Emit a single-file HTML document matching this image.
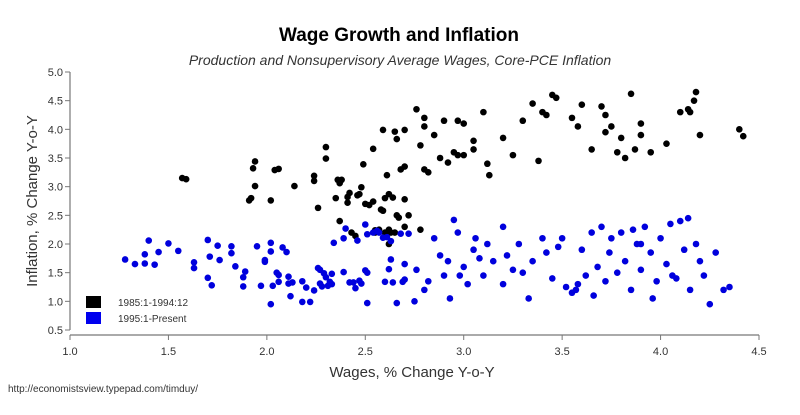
<!DOCTYPE html>
<html><head><meta charset="utf-8"><style>
body{margin:0;background:#fff;}
svg{display:block;font-family:"Liberation Sans",sans-serif;}
</style></head><body>
<svg id="c" width="800" height="415">
<text x="399" y="41" text-anchor="middle" font-size="19" font-weight="bold">Wage Growth and Inflation</text>
<text x="400" y="65" text-anchor="middle" font-size="14" font-style="italic" fill="#333">Production and Nonsupervisory Average Wages, Core-PCE Inflation</text>
<text x="412" y="377" text-anchor="middle" font-size="15" fill="#333">Wages, % Change Y-o-Y</text>
<text transform="translate(37,201) rotate(-90)" text-anchor="middle" font-size="15" fill="#333">Inflation, % Change Y-o-Y</text>
<text x="8" y="392" font-size="10" fill="#333">http://economistsview.typepad.com/timduy/</text>
<g id="axes"></g>
<g id="marks"></g>
<g>
<rect x="86" y="296" width="15" height="12" fill="#000"/>
<text x="118" y="306" font-size="10" fill="#333">1985:1-1994:12</text>
<rect x="86" y="312" width="15" height="12" fill="#0000ee"/>
<text x="118" y="322" font-size="10" fill="#333">1995:1-Present</text>
</g>
</svg>
<script>
const xTicks=[1.0,1.5,2.0,2.5,3.0,3.5,4.0,4.5];
const yTicks=[0.5,1.0,1.5,2.0,2.5,3.0,3.5,4.0,4.5,5.0];
const blackX=[1.57,1.59,1.91,1.92,1.93,1.94,1.94,2.02,2.04,2.06,2.14,2.24,2.24,2.26,2.3,2.3,2.35,2.36,2.37,2.38,2.37,2.41,2.42,2.41,2.45,2.46,2.47,2.48,2.49,2.52,2.54,2.54,2.55,2.58,2.59,2.59,2.6,2.61,2.62,2.63,2.64,2.65,2.66,2.67,2.68,2.7,2.7,2.72,2.76,2.78,2.8,2.8,2.8,2.82,2.85,2.88,2.9,2.92,2.95,2.97,3.0,3.0,3.05,3.05,3.1,3.12,3.13,3.2,3.25,3.3,3.35,3.38,3.4,3.42,3.45,3.47,3.58,3.6,3.65,3.7,3.72,3.75,3.78,3.8,3.82,3.85,3.87,3.9,3.9,3.95,4.03,4.1,4.14,4.15,4.17,4.18,4.2,4.4,4.42,2.97,3.55,3.72,2.55,2.57,2.6,2.62,2.65,2.66,2.7,2.78,2.7,2.62,2.5,2.43];
const blackY=[3.15,3.13,2.76,2.8,3.32,3.44,3.01,2.76,3.29,3.31,3.01,3.19,3.1,2.63,3.69,3.49,2.8,3.12,3.06,3.12,2.4,2.82,2.89,2.72,2.14,2.85,2.87,2.99,3.39,2.68,2.74,3.66,2.24,2.6,2.58,3.99,2.8,3.2,2.87,2.2,2.81,3.96,3.83,2.46,3.3,3.35,3.99,2.5,4.35,3.72,4.2,4.05,3.3,3.25,3.9,3.5,4.15,3.42,3.6,3.55,4.1,3.55,3.8,3.65,4.3,3.4,3.2,3.85,3.55,4.15,4.45,3.45,4.3,4.25,4.6,4.55,4.05,4.43,3.65,4.4,4.25,4.05,3.6,3.85,3.5,4.62,3.65,4.1,3.9,3.6,3.75,4.3,4.35,4.3,4.5,4.65,3.9,4.0,3.88,4.15,4.2,3.95,2.2,2.25,2.2,2.25,2.2,2.5,2.3,2.25,2.78,2.0,2.7,2.2];
const blueX=[1.28,1.33,1.38,1.38,1.4,1.43,1.45,1.5,1.55,1.63,1.63,1.7,1.7,1.71,1.72,1.75,1.76,1.82,1.82,1.84,1.88,1.88,1.89,1.95,1.97,1.99,1.99,2.02,2.02,2.02,2.03,2.05,2.06,2.06,2.08,2.1,2.11,2.11,2.12,2.13,2.18,2.18,2.2,2.22,2.24,2.26,2.27,2.27,2.28,2.29,2.3,2.31,2.32,2.33,2.33,2.34,2.39,2.39,2.4,2.42,2.44,2.45,2.46,2.47,2.48,2.5,2.5,2.51,2.51,2.51,2.54,2.56,2.57,2.59,2.6,2.61,2.62,2.63,2.63,2.64,2.66,2.68,2.69,2.7,2.7,2.72,2.75,2.76,2.8,2.82,2.85,2.88,2.9,2.92,2.93,2.95,2.97,3.0,3.02,3.05,3.1,3.12,3.15,3.2,3.22,3.28,3.3,3.35,3.4,3.42,3.45,3.5,3.52,3.55,3.58,3.6,3.62,3.65,3.68,3.7,3.72,3.75,3.78,3.8,3.82,3.85,3.88,3.9,3.92,3.95,3.98,4.0,4.03,4.05,4.08,4.1,4.12,4.15,4.18,4.2,4.22,4.25,4.28,4.32,4.35,3.08,3.25,3.48,3.57,3.66,3.74,3.86,4.06,4.14,3.96,3.33,3.2,2.98,3.06,3.9];
const blueY=[1.73,1.65,1.82,1.66,2.06,1.64,1.86,2.01,1.88,1.68,1.58,2.07,1.41,1.78,1.28,1.97,1.72,1.96,1.84,1.61,1.26,1.42,1.52,1.96,1.27,1.72,1.69,2.02,1.87,0.95,1.27,1.5,1.46,1.34,1.94,1.86,1.43,1.31,1.09,1.33,1.35,0.99,1.24,0.99,1.19,1.58,1.55,1.31,1.26,1.49,1.42,1.27,1.34,1.3,1.48,2.02,1.51,2.1,2.27,1.33,1.33,1.23,2.06,1.36,1.31,2.34,1.54,1.5,0.97,2.17,2.2,2.23,2.2,2.11,1.34,2.12,1.56,2.05,1.73,1.33,0.97,2.18,1.34,1.38,1.65,2.18,1.0,1.55,1.2,1.35,2.1,1.8,1.45,1.7,1.05,2.42,2.2,1.6,1.3,1.9,1.45,2.0,1.7,2.3,1.8,2.0,1.5,1.7,2.1,1.85,1.4,2.1,1.25,1.15,1.3,1.9,1.45,2.2,1.6,2.3,1.35,2.1,1.5,2.2,1.7,1.2,2.0,1.55,2.3,1.85,1.35,2.1,1.65,2.35,1.4,2.4,1.9,1.2,2.0,1.7,1.45,0.95,1.85,1.2,1.25,1.75,1.55,1.95,1.2,1.1,1.85,2.25,1.45,2.45,1.05,1.05,1.3,1.45,2.1,2.0];
const X0=70,X1=759,Y0=330,Y1=72;
const sx=v=>X0+(v-1.0)/3.5*(X1-X0);
const sy=v=>Y0-(v-0.5)/4.5*(Y0-Y1);
const NS="http://www.w3.org/2000/svg";
const ax=document.getElementById('axes'),mk=document.getElementById('marks');
function mkEl(t,a){const e=document.createElementNS(NS,t);for(const k in a)e.setAttribute(k,a[k]);return e;}
let l=mkEl('line',{x1:X0,x2:X0,y1:Y1,y2:Y0,stroke:'#777','stroke-width':1.2});


ax.appendChild(l);
l=mkEl('line',{x1:X0,x2:X1,y1:335,y2:335,stroke:'#777','stroke-width':1.2});


ax.appendChild(l);
yTicks.forEach(v=>{
 const t=mkEl('line',{x1:X0-5,x2:X0,y1:sy(v),y2:sy(v),stroke:'#777'});
 
 
 ax.appendChild(t);
 const tx=mkEl('text',{x:X0-7,y:sy(v)+4,'text-anchor':'end','font-size':11,fill:'#333'});
 tx.textContent=v.toFixed(1);
 
 
 ax.appendChild(tx);
});
xTicks.forEach(v=>{
 const t=mkEl('line',{x1:sx(v),x2:sx(v),y1:335,y2:340,stroke:'#777'});
 
 
 ax.appendChild(t);
 const tx=mkEl('text',{x:sx(v),y:355,'text-anchor':'middle','font-size':11,fill:'#333'});
 tx.textContent=v.toFixed(1);
 
 
 ax.appendChild(tx);
});
blackX.forEach((v,i)=>{
 const c=mkEl('circle',{cx:sx(v),cy:sy(blackY[i]),r:3.3,fill:'#000'});
 
 
 mk.appendChild(c);
});
blueX.forEach((v,i)=>{
 const c=mkEl('circle',{cx:sx(v),cy:sy(blueY[i]),r:3.3,fill:'#0000dd'});
 
 
 mk.appendChild(c);
});
</script>
</body></html>
